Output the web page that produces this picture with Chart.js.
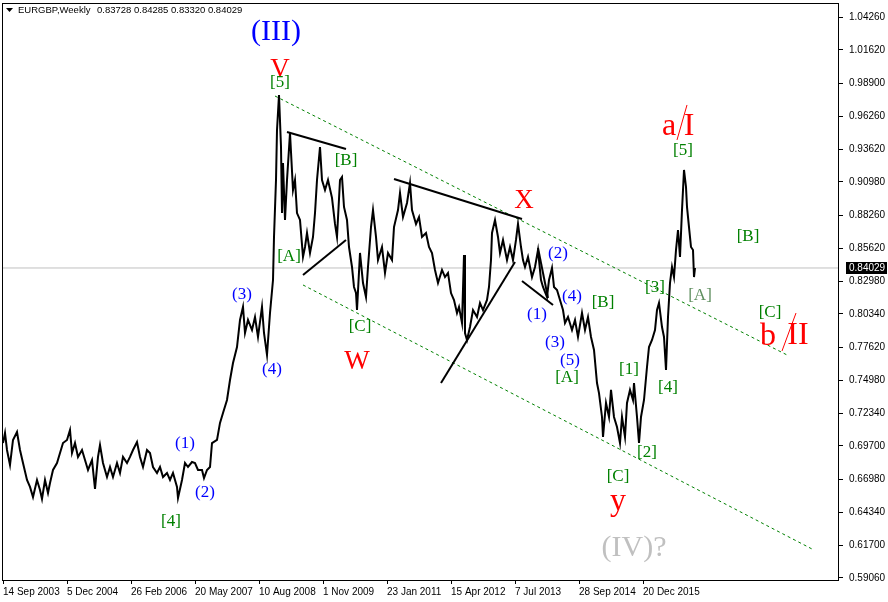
<!DOCTYPE html>
<html>
<head>
<meta charset="utf-8">
<script src="https://cdn.jsdelivr.net/npm/chart.js@4.4.1/dist/chart.umd.min.js"></script>
<style>
  html, body { margin: 0; padding: 0; background: #fff; }
</style>
</head>
<body>
<canvas id="chart" width="888" height="602"></canvas>
<script>
// weeks counted from 14 Sep 2003, weekly closes
const weeks = [
  0, 2, 4, 7, 10, 14, 17, 20, 24, 27,
  30, 34, 37, 39, 42, 45, 47, 50, 54, 57,
  60, 64, 67, 69, 72, 75, 79, 82, 85, 89,
  92, 95, 97, 100, 104, 107, 110, 114, 117, 120,
  124, 127, 130, 134, 137, 140, 144, 147, 150, 154,
  157, 160, 164, 167, 170, 174, 175, 179, 182, 185,
  189, 192, 195, 199, 201, 204, 207, 209, 214, 217,
  220, 224, 227, 230, 234, 237, 240, 242, 245, 249,
  252, 255, 259, 261, 264, 267, 270, 271, 273, 274,
  276, 278, 279, 280, 282, 284, 287, 290, 292, 294,
  297, 300, 302, 304, 307, 310, 312, 314, 317, 319,
  322, 325, 329, 332, 334, 337, 339, 341, 344, 346,
  349, 351, 353, 354, 357, 360, 363, 365, 368, 370,
  373, 375, 379, 382, 385, 389, 391, 395, 397, 400,
  404, 407, 409, 413, 416, 419, 423, 426, 429, 432,
  435, 439, 442, 445, 448, 451, 454, 456, 459, 461,
  462, 464, 467, 470, 474, 477, 480, 484, 486, 488,
  489, 492, 495, 497, 500, 504, 507, 510, 513, 515,
  518, 520, 522, 525, 529, 532, 535, 538, 540, 544,
  546, 549, 551, 554, 557, 560, 562, 565, 569, 572,
  575, 579, 582, 585, 588, 591, 594, 596, 599, 600,
  603, 606, 608, 611, 614, 617, 619, 622, 624, 627,
  630, 631, 634, 636, 638, 641, 644, 646, 649, 652,
  654, 656, 659, 661, 663, 665, 667, 669, 671, 673,
  675, 677, 679, 681, 683, 684, 686, 688, 690, 691,
  692
];
const closes = [
  0.6992, 0.7073, 0.6936, 0.6815, 0.7017, 0.7081, 0.6936, 0.6831, 0.6694, 0.6638,
  0.6557, 0.6694, 0.6614, 0.6541, 0.6694, 0.6589, 0.6670, 0.6775, 0.6831, 0.6912,
  0.6992, 0.7017, 0.7097, 0.6912, 0.6992, 0.6880, 0.6936, 0.6855, 0.6775, 0.6855,
  0.6622, 0.6880, 0.6976, 0.6831, 0.6718, 0.6799, 0.6718, 0.6831, 0.6751, 0.6880,
  0.6831, 0.6880, 0.6936, 0.7000, 0.6880, 0.6799, 0.6936, 0.6912, 0.6799, 0.6751,
  0.6799, 0.6718, 0.6751, 0.6694, 0.6751, 0.6638, 0.6549, 0.6694, 0.6831, 0.6799,
  0.6839, 0.6831, 0.6775, 0.6775, 0.6710, 0.6775, 0.6799, 0.6992, 0.7017, 0.7154,
  0.7234, 0.7339, 0.7500, 0.7637, 0.7766, 0.7984, 0.8089, 0.7879, 0.7984, 0.7903,
  0.8008, 0.7847, 0.8089, 0.7879, 0.7702, 0.8040, 0.8306, 0.8653, 0.9112, 0.9515,
  0.9797, 0.9378, 0.8846, 0.9249, 0.8790, 0.9112, 0.9491, 0.9032, 0.9112, 0.8846,
  0.8790, 0.8492, 0.8572, 0.8685, 0.8524, 0.8653, 0.8846, 0.9112, 0.9378, 0.9112,
  0.9032, 0.9112, 0.8968, 0.8758, 0.8653, 0.9112, 0.9136, 0.8895, 0.8790, 0.8572,
  0.8411, 0.8250, 0.8201, 0.8064, 0.8524, 0.8282, 0.8169, 0.8411, 0.8733, 0.8870,
  0.8653, 0.8467, 0.8572, 0.8363, 0.8524, 0.8467, 0.8733, 0.8870, 0.9007, 0.8814,
  0.8927, 0.9088, 0.8870, 0.8758, 0.8814, 0.8653, 0.8685, 0.8572, 0.8524, 0.8387,
  0.8282, 0.8387, 0.8330, 0.8363, 0.8201, 0.8145, 0.8040, 0.8089, 0.7960, 0.8508,
  0.7879, 0.7823, 0.7927, 0.8064, 0.8008, 0.8121, 0.8064, 0.8145, 0.8250, 0.8467,
  0.8685, 0.8790, 0.8653, 0.8524, 0.8629, 0.8467, 0.8572, 0.8467, 0.8629, 0.8758,
  0.8572, 0.8467, 0.8411, 0.8492, 0.8330, 0.8411, 0.8548, 0.8306, 0.8250, 0.8169,
  0.8306, 0.8403, 0.8250, 0.8226, 0.8145, 0.8064, 0.7960, 0.8008, 0.7903, 0.7984,
  0.7847, 0.8040, 0.7903, 0.8008, 0.7847, 0.7742, 0.7476, 0.7395, 0.7202, 0.7041,
  0.7315, 0.7202, 0.7420, 0.7202, 0.7121, 0.6992, 0.7202, 0.7041, 0.7315, 0.7420,
  0.7339, 0.7476, 0.7202, 0.6992, 0.7202, 0.7339, 0.7605, 0.7766, 0.7823, 0.7903,
  0.8064, 0.8121, 0.7927, 0.7847, 0.7581, 0.8008, 0.8282, 0.8411, 0.8330, 0.8548,
  0.8709, 0.8492, 0.8870, 0.9193, 0.9056, 0.8895, 0.8733, 0.8572, 0.8548, 0.8330,
  0.8403
];

const lastQuote = { open: 0.83728, high: 0.84285, low: 0.83320, close: 0.84029 };

const xTickWeeks = [0, 64, 128, 192, 256, 320, 384, 448, 512, 576, 640];
const xTickLabels = ["14 Sep 2003", "5 Dec 2004", "26 Feb 2006", "20 May 2007", "10 Aug 2008",
  "1 Nov 2009", "23 Jan 2011", "15 Apr 2012", "7 Jul 2013", "28 Sep 2014", "20 Dec 2015"];
const yTickValues = [1.04260, 1.01620, 0.98900, 0.96260, 0.93620, 0.90980, 0.88260, 0.85620,
  0.82980, 0.80340, 0.77620, 0.74980, 0.72340, 0.69700, 0.66980, 0.64340, 0.61700, 0.59060];

// channel and trend lines: [week, price] end points
const channelUpper = [[272, 0.9789], [784, 0.7702]];
const channelLower = [[300, 0.8266], [809, 0.6138]];
const trendLines = [
  [[284, 0.9499], [343, 0.9362]],
  [[300, 0.8346], [343, 0.8629]],
  [[391, 0.9120], [519, 0.8798]],
  [[438, 0.7476], [512, 0.8451]],
  [[519, 0.8298], [550, 0.8105]],
  [[535, 0.8564], [545, 0.8161]]
];
const slashLines = [
  [[684, 0.9717], [674, 0.9435]],
  [[793, 0.8040], [779, 0.7734]]
];

// wave labels: text, week, price, kind
const waveLabels = [
  ["(III)", 273, 1.0305, "blueBig"],
  ["V", 277, 0.9999, "red"],
  ["[5]", 277, 0.9894, "green"],
  ["(3)", 239, 0.8185, "blue"],
  ["(4)", 269, 0.7581, "blue"],
  ["(1)", 182, 0.6984, "blue"],
  ["(2)", 202, 0.6597, "blue"],
  ["[4]", 168, 0.6356, "green"],
  ["[A]", 286, 0.8492, "green"],
  ["[B]", 343, 0.9273, "green"],
  ["[C]", 357, 0.7935, "green"],
  ["W", 354, 0.7645, "red"],
  ["X", 521, 0.8943, "red"],
  ["(2)", 555, 0.8516, "blue"],
  ["(4)", 569, 0.8169, "blue"],
  ["(1)", 534, 0.8024, "blue"],
  ["(3)", 552, 0.7806, "blue"],
  ["(5)", 567, 0.7661, "blue"],
  ["[B]", 600, 0.8121, "green"],
  ["[A]", 564, 0.7516, "green"],
  ["[1]", 626, 0.7581, "green"],
  ["[2]", 644, 0.6912, "green"],
  ["[3]", 652, 0.8242, "green"],
  ["[4]", 665, 0.7436, "green"],
  ["[5]", 680, 0.9346, "green"],
  ["[A]", 697, 0.8177, "greenGray"],
  ["[B]", 745, 0.8653, "green"],
  ["[C]", 767, 0.8040, "green"],
  ["[C]", 615, 0.6726, "green"],
  ["y", 615, 0.6517, "redBig"],
  ["(IV)?", 631, 0.6146, "gray"],
  ["a", 666, 0.9539, "redBig"],
  ["I", 686, 0.9539, "redBig"],
  ["b", 765, 0.7847, "redBig"],
  ["II", 795, 0.7855, "redBig"]
];

const labelStyles = {
  blue: { color: "#0000ff", size: 17 },
  blueBig: { color: "#0000ff", size: 30 },
  green: { color: "#008000", size: 17 },
  greenGray: { color: "#5f8f5f", size: 17 },
  red: { color: "#ff0000", size: 27 },
  redBig: { color: "#ff0000", size: 32 },
  gray: { color: "#c0c0c0", size: 30 }
};

function toPoints(pairs) {
  return pairs.map(p => ({ x: p[0], y: p[1] }));
}

const priceData = weeks.map((w, i) => ({ x: w, y: closes[i] }));

const datasets = [
  {
    data: priceData,
    borderColor: "#000",
    borderWidth: 2,
    pointRadius: 0,
    tension: 0,
    order: 1
  },
  {
    data: [{ x: 0, y: lastQuote.close }, { x: 835, y: lastQuote.close }],
    borderColor: "#c0c0c0",
    borderWidth: 1,
    pointRadius: 0,
    order: 9
  },
  {
    data: toPoints(channelUpper),
    borderColor: "#008000",
    borderWidth: 1,
    borderDash: [3, 3],
    pointRadius: 0,
    order: 5
  },
  {
    data: toPoints(channelLower),
    borderColor: "#008000",
    borderWidth: 1,
    borderDash: [3, 3],
    pointRadius: 0,
    order: 5
  }
];
trendLines.forEach(l => datasets.push({
  data: toPoints(l), borderColor: "#000", borderWidth: 2, pointRadius: 0, order: 2
}));
slashLines.forEach(l => datasets.push({
  data: toPoints(l), borderColor: "#ff0000", borderWidth: 1, pointRadius: 0, order: 2
}));

const overlay = {
  id: "overlay",
  afterDraw(chart) {
    const c = chart.ctx;
    const area = chart.chartArea;
    const xs = chart.scales.x, ys = chart.scales.y;
    c.save();

    // frame
    c.strokeStyle = "#000";
    c.lineWidth = 1;
    c.strokeRect(area.left - 0.5, area.top - 0.5, area.right - area.left + 1, area.bottom - area.top + 1);

    // wave labels
    c.textAlign = "center";
    c.textBaseline = "middle";
    waveLabels.forEach(([txt, w, p, kind]) => {
      const st = labelStyles[kind];
      c.font = st.size + "px 'Liberation Serif', 'Times New Roman', serif";
      c.fillStyle = st.color;
      c.fillText(txt, xs.getPixelForValue(w), ys.getPixelForValue(p));
    });

    // header
    c.fillStyle = "#000";
    c.beginPath();
    c.moveTo(6, 8); c.lineTo(13, 8); c.lineTo(9.5, 12); c.closePath();
    c.fill();
    c.font = "9.5px 'Liberation Sans', Arial, sans-serif";
    c.textAlign = "left";
    c.fillText("EURGBP,Weekly", 18, 10);
    c.fillText([lastQuote.open, lastQuote.high, lastQuote.low, lastQuote.close]
      .map(v => v.toFixed(5)).join(" "), 97, 10);

    // current price tag
    const py = Math.round(ys.getPixelForValue(lastQuote.close));
    c.fillStyle = "#000";
    c.fillRect(area.right + 8, py - 6, 41, 12);
    c.fillStyle = "#fff";
    c.font = "10px 'Liberation Sans', Arial, sans-serif";
    c.fillText(lastQuote.close.toFixed(5), area.right + 11, py);
    c.restore();
  }
};

new Chart(document.getElementById("chart"), {
  type: "line",
  data: { datasets: datasets },
  options: {
    responsive: false,
    animation: false,
    events: [],
    layout: { padding: { left: 3, top: 4, right: 0, bottom: 0 } },
    plugins: { legend: { display: false }, tooltip: { enabled: false } },
    scales: {
      x: {
        type: "linear",
        min: 0,
        max: 835,
        afterBuildTicks: s => { s.ticks = xTickWeeks.map(v => ({ value: v })); },
        afterFit: s => { s.height = 22; s.paddingLeft = 0; s.paddingRight = 0; },
        grid: { drawOnChartArea: false, drawTicks: true, tickLength: 4, color: "#000" },
        border: { display: true, color: "#000" },
        ticks: {
          autoSkip: false,
          maxRotation: 0,
          align: "start",
          padding: 2,
          color: "#000",
          font: { family: "'Liberation Sans', Arial, sans-serif", size: 10 },
          callback: (v, i) => xTickLabels[i]
        }
      },
      y: {
        type: "linear",
        position: "right",
        min: 0.58880,
        max: 1.05308,
        afterBuildTicks: s => { s.ticks = yTickValues.map(v => ({ value: v })); },
        afterFit: s => { s.width = 50; s.paddingTop = 0; s.paddingBottom = 0; },
        grid: { drawOnChartArea: false, drawTicks: true, tickLength: 5, color: "#000" },
        border: { display: true, color: "#000" },
        ticks: {
          autoSkip: false,
          padding: 6,
          color: "#000",
          font: { family: "'Liberation Sans', Arial, sans-serif", size: 10 },
          callback: v => v.toFixed(5)
        }
      }
    }
  },
  plugins: [overlay]
});
</script>
</body>
</html>
